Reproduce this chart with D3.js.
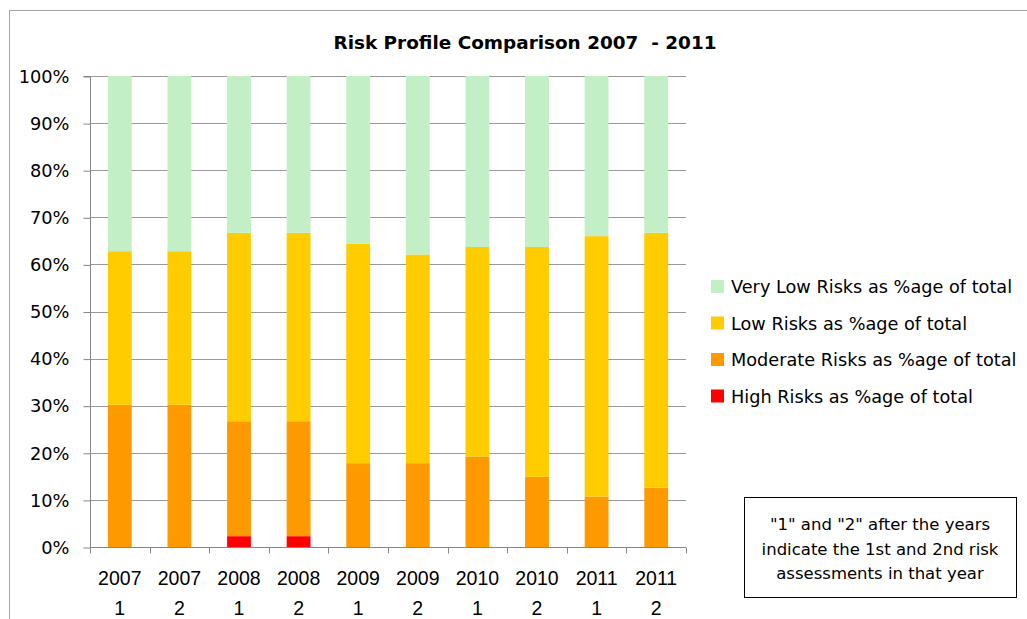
<!DOCTYPE html>
<html>
<head>
<meta charset="utf-8">
<script src="https://cdn.jsdelivr.net/npm/d3@7"></script>
<style>
  body { margin: 0; background: #fff; }
  svg { display: block; font-family: "DejaVu Sans", sans-serif; }
</style>
</head>
<body>
<svg id="chart" width="1027" height="619"></svg>
<script>
const categories = ["2007|1","2007|2","2008|1","2008|2","2009|1","2009|2","2010|1","2010|2","2011|1","2011|2"];
const seriesNames = ["High Risks as %age of total","Moderate Risks as %age of total","Low Risks as %age of total","Very Low Risks as %age of total"];
const highRisk     = [0, 0, 2.3, 2.3, 0, 0, 0, 0, 0, 0];
const moderateRisk = [30.2, 30.2, 24.4, 24.4, 17.8, 17.8, 19.2, 14.9, 10.7, 12.6];
const lowRisk      = [32.6, 32.6, 40.0, 40.0, 46.6, 44.3, 44.5, 48.8, 55.3, 54.1];
const veryLowRisk  = [37.2, 37.2, 33.3, 33.3, 35.6, 37.9, 36.3, 36.3, 34.0, 33.3];
const seriesColors = ["#ff0000","#ff9900","#ffcc00","#c3efc6"];
const yTicks = [0,10,20,30,40,50,60,70,80,90,100];
const titleText = "Risk Profile Comparison 2007  - 2011";
const noteLines = ["\"1\" and \"2\" after the years","indicate the 1st and 2nd risk","assessments in that year"];

const svg = d3.select("#chart");
const m = {left: 90, right: 686, top: 76, bottom: 547};

function fitWidth(sel, w) {
  sel.each(function() {
    const cur = this.getComputedTextLength();
    if (cur > 0) d3.select(this).attr("textLength", w).attr("lengthAdjust", "spacingAndGlyphs");
  });
}

// outer chart border
svg.append("rect").attr("x", 9.5).attr("y", 10.5).attr("width", 1040).attr("height", 640)
  .attr("fill", "#fff").attr("stroke", "#a6a6a6").attr("stroke-width", 1);

const rows = categories.map((c, i) => ({cat: c, h: highRisk[i], m: moderateRisk[i], l: lowRisk[i], v: veryLowRisk[i]}));
const keys = ["h","m","l","v"];
const stack = d3.stack().keys(keys)(rows);

const x = d3.scaleBand().domain(categories).range([m.left, m.right]).paddingInner(0.6).paddingOuter(0.3);
const y = d3.scaleLinear().domain([0, 100]).range([m.bottom, m.top]);

// gridlines
svg.append("g").selectAll("line").data(yTicks.filter(t => t > 0)).join("line")
  .attr("x1", m.left).attr("x2", m.right)
  .attr("y1", d => Math.round(y(d)) + 0.5).attr("y2", d => Math.round(y(d)) + 0.5)
  .attr("stroke", "#989898").attr("stroke-width", 1);

// bars
svg.append("g").selectAll("g").data(stack).join("g")
  .attr("fill", (d, i) => seriesColors[i])
  .selectAll("rect").data(d => d).join("rect")
  .attr("x", d => x(d.data.cat))
  .attr("width", x.bandwidth())
  .attr("y", d => y(d[1]))
  .attr("height", d => Math.max(0, y(d[0]) - y(d[1])));

// y axis
const yAxis = d3.axisLeft(y).tickValues(yTicks).tickFormat(d => d + "%").tickSize(7).tickPadding(14);
const gy = svg.append("g").attr("transform", `translate(${m.left + 0.5},0.5)`).call(yAxis);
gy.select(".domain").attr("stroke", "#868686").attr("d", `M-7,${m.top}H0V${m.bottom}`);
gy.selectAll(".tick line").attr("stroke", "#868686");
gy.selectAll(".tick text").attr("font-size", 17.8).attr("fill", "#000").attr("font-family", "DejaVu Sans, sans-serif");

// x axis
const xAxis = d3.axisBottom(x).tickSize(0).tickFormat("");
const gx = svg.append("g").attr("transform", `translate(0,${m.bottom + 0.5})`).call(xAxis);
gx.select(".domain").attr("stroke", "#868686").attr("d", `M${m.left},0H${m.right}`);
const bandStep = x.step();
gx.selectAll(".sep").data(d3.range(categories.length + 1)).join("line")
  .attr("x1", i => Math.round(m.left + i * bandStep) + 0.5).attr("x2", i => Math.round(m.left + i * bandStep) + 0.5)
  .attr("y1", 0).attr("y2", 6).attr("stroke", "#868686");
gx.selectAll(".lbl").data(categories).join("text")
  .attr("text-anchor", "middle").attr("font-size", 19.5).attr("fill", "#000")
  .attr("x", d => x(d) + x.bandwidth() / 2)
  .each(function(d) {
    const parts = d.split("|");
    d3.select(this).append("tspan").attr("x", x(d) + x.bandwidth() / 2).attr("y", 37).text(parts[0]);
    d3.select(this).append("tspan").attr("x", x(d) + x.bandwidth() / 2).attr("y", 67).text(parts[1]);
  });

// title
svg.append("text").attr("x", 525).attr("y", 49).attr("text-anchor", "middle")
  .attr("font-size", 17).attr("font-weight", "bold").attr("fill", "#000").attr("xml:space", "preserve")
  .text(titleText)
  .call(fitWidth, 383);

// legend
const legendOrder = [3, 2, 1, 0];
const lg = svg.append("g").selectAll("g").data(legendOrder).join("g")
  .attr("transform", (d, i) => `translate(711,${286 + i * 36.5})`);
lg.append("rect").attr("x", 0).attr("y", -6).attr("width", 13).attr("height", 13).attr("fill", d => seriesColors[d]);
lg.append("text").attr("x", 20).attr("y", 7).attr("font-size", 17.7).attr("fill", "#000").text(d => seriesNames[d]);

// note box
svg.append("rect").attr("x", 744.5).attr("y", 497.5).attr("width", 272).attr("height", 100)
  .attr("fill", "#fff").attr("stroke", "#000").attr("stroke-width", 1);
svg.append("g").selectAll("text").data(noteLines).join("text")
  .attr("x", 880).attr("y", (d, i) => 530 + i * 24.5).attr("text-anchor", "middle")
  .attr("font-size", 16.5).attr("fill", "#000").text(d => d);
</script>
</body>
</html>
